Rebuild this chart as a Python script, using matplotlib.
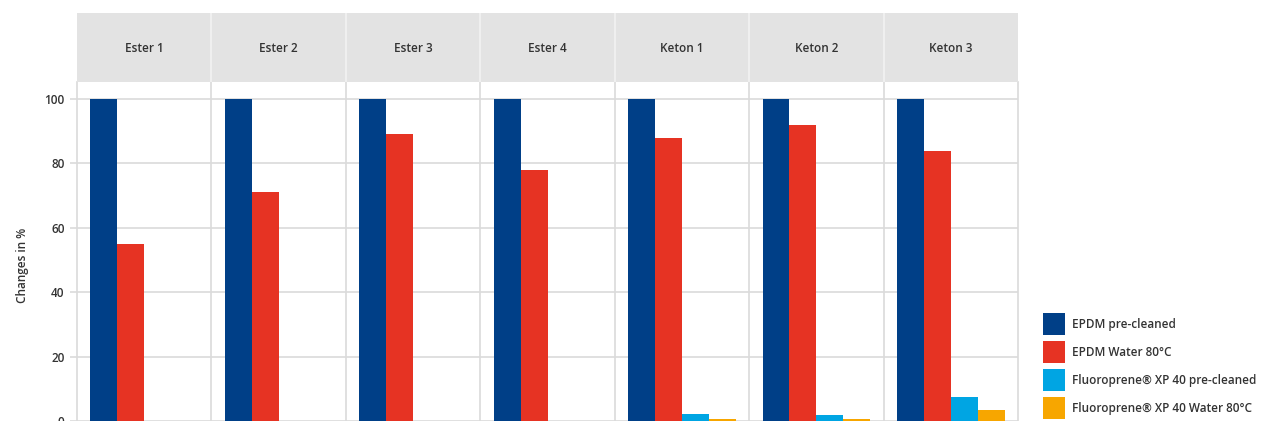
import matplotlib.pyplot as plt
import numpy as np

plt.rcParams['font.family'] = ['Open Sans', 'DejaVu Sans']

# Daten aus dem Diagramm
groups = ['Ester 1', 'Ester 2', 'Ester 3', 'Ester 4', 'Keton 1', 'Keton 2', 'Keton 3']
series = ['EPDM pre-cleaned', 'EPDM Water 80°C',
          'Fluoroprene® XP 40 pre-cleaned', 'Fluoroprene® XP 40 Water 80°C']
epdm_pre = [100, 100, 100, 100, 100, 100, 100]
epdm_water = [55, 71, 89, 78, 88, 92, 84]
fluoro_pre = [0, 0, 0, 0, 2.3, 2.0, 7.4]
fluoro_water = [0, 0, 0, 0, 0.7, 0.7, 3.3]
yticks = [0, 20, 40, 60, 80, 100]

colors = ['#003f87', '#e63323', '#00a5e3', '#f7a600']
grid_col = '#dadada'
text_col = '#333333'

W, H = 1261, 421
fig = plt.figure(figsize=(W / 100, H / 100), dpi=100)

x0, x1 = 77 / W, 1018 / W
ax = fig.add_axes([x0, 0, x1 - x0, (H - 82) / H])
hdr = fig.add_axes([x0, (H - 82) / H, x1 - x0, (82 - 13) / H])

x = np.arange(len(groups))
bw = 0.2
for k, (vals, c, lab) in enumerate(zip([epdm_pre, epdm_water, fluoro_pre, fluoro_water],
                                       colors, series)):
    ax.bar(x + (k - 1.5) * bw, vals, width=bw, color=c, label=lab, zorder=3)

ax.set_xlim(-0.5, len(groups) - 0.5)
ax.set_ylim(0, 105.3)
ax.set_yticks(yticks)
ax.set_xticks([])
ax.yaxis.grid(True, color=grid_col, linewidth=1.2, zorder=0)
for s in x[:-1] + 0.5:
    ax.axvline(s, color=grid_col, linewidth=1.2, zorder=0)
for side in ['top', 'bottom']:
    ax.spines[side].set_visible(False)
for side in ['left', 'right']:
    ax.spines[side].set_color(grid_col)
    ax.spines[side].set_linewidth(1.2)
ax.tick_params(axis='y', length=5, width=1.2, color=grid_col, labelsize=8.5,
               labelcolor=text_col, pad=4)
for t in ax.get_yticklabels():
    t.set_fontweight('semibold')
ax.set_ylabel('Changes in %', fontsize=8.5, color=text_col, fontweight='semibold')
ax.yaxis.set_label_coords(-0.051, 0.46)

# Kopfzeile mit Gruppennamen
hdr.set_facecolor('#e3e3e3')
hdr.set_xlim(-0.5, len(groups) - 0.5)
hdr.set_ylim(0, 1)
hdr.set_xticks([])
hdr.set_yticks([])
for sp in hdr.spines.values():
    sp.set_visible(False)
for s in x[:-1] + 0.5:
    hdr.axvline(s, color='#f2f2f2', linewidth=1.2)
for i, g in enumerate(groups):
    hdr.text(i, 0.49, g, ha='center', va='center', fontsize=8.5,
             color=text_col, fontweight='semibold')

fig.legend(loc='upper left', bbox_to_anchor=(1043 / W, 1 - 313 / H),
           frameon=False, handlelength=1.85, handleheight=2.49,
           labelspacing=0.51, handletextpad=0.6, borderpad=0, borderaxespad=0,
           labelcolor=text_col, prop={'weight': 'semibold', 'size': 8.5})

fig.savefig('out.png', dpi=100)
